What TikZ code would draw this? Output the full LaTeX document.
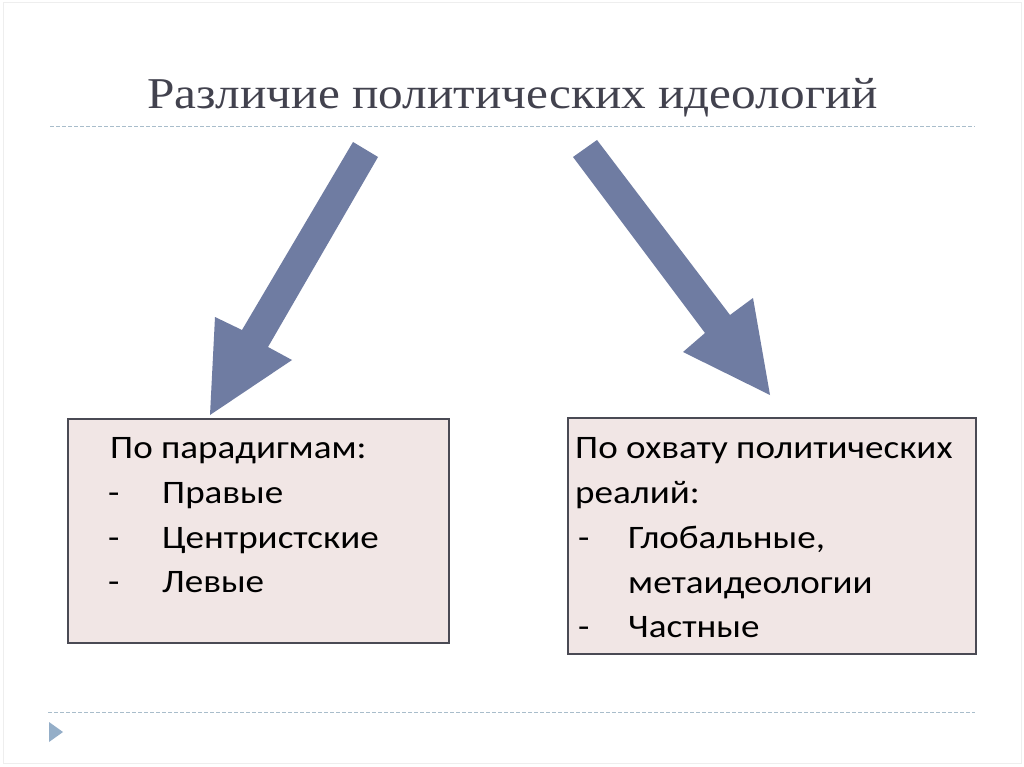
\documentclass[tikz,border=0pt]{standalone}
\usepackage{fontspec}
\usepackage{graphicx}
\setmainfont{Carlito}
\newfontfamily\titlefont{Liberation Serif}
\definecolor{arrowc}{HTML}{6F7CA2}
\definecolor{boxfill}{HTML}{F1E6E5}
\definecolor{boxline}{HTML}{4A4A54}
\definecolor{titlec}{HTML}{42424E}
\definecolor{dashc}{HTML}{A9BDCB}
\definecolor{tric}{HTML}{94AEC8}
\definecolor{framec}{HTML}{EEEEEE}
\newcommand{\wide}[1]{\scalebox{1.13}[1]{#1}}
\tikzset{
  bigarrow/.style={fill=arrowc},
  infobox/.style={draw=boxline, line width=1.6pt, fill=boxfill, anchor=north west, inner sep=0pt},
  line/.style={anchor=base west, inner sep=0pt, font=\fontsize{32.8}{38}\selectfont, text=black},
  sep/.style={draw=dashc, line width=1pt, dash pattern=on 4pt off 2pt},
}
\begin{document}
\begin{tikzpicture}[x=1pt,y=-1pt]
\useasboundingbox (0,0) rectangle (1024,767);
\fill[white] (0,0) rectangle (1024,767);
\draw[framec, line width=1pt] (3,3) rectangle (1021,763);
% title
\node[anchor=base west, inner sep=0pt, text=titlec, font=\titlefont\fontsize{44}{48}\selectfont] (title) at (147,109) {\scalebox{1.12}[1]{Различие политических идеологий}};
% separators
\coordinate (s1a) at (50,127); \coordinate (s1b) at (975,127);
\coordinate (s2a) at (48,712); \coordinate (s2b) at (975,712);
\draw[sep] (s1a) -- (s1b);
\draw[sep] (s2a) -- (s2b);
\fill[tric] (49,722) -- (63,732) -- (49,742) -- cycle;
% arrows
\fill[bigarrow] (353,142) -- (378,157) -- (268,347) -- (292,360) -- (210,415) -- (215,317) -- (242,330) -- cycle;
\fill[bigarrow] (597,140) -- (730,315) -- (753,298) -- (770,395) -- (683,352) -- (705,333) -- (573,157) -- cycle;
% boxes
\node[infobox, minimum width=381pt, minimum height=224pt] (lbox) at (67,418) {};
\node[infobox, minimum width=408pt, minimum height=236pt] (rbox) at (567,417) {};
% left text
\node[line] (l1) at (110,458) {\wide{По парадигмам:}};
\node[line] (l2d) at (108,503) {\wide{-}};
\node[line] (l2) at (162,503) {\wide{Правые}};
\node[line] (l3d) at (108,548) {\wide{-}};
\node[line] (l3) at (162,548) {\wide{Центристские}};
\node[line] (l4d) at (108,592) {\wide{-}};
\node[line] (l4) at (162,592) {\wide{Левые}};
% right text
\node[line] (r1) at (575,458) {\wide{По охвату политических}};
\node[line] (r2) at (575,503) {\wide{реалий:}};
\node[line] (r3d) at (578,548) {\wide{-}};
\node[line] (r3) at (628,548) {\wide{Глобальные,}};
\node[line] (r4) at (628,593) {\wide{метаидеологии}};
\node[line] (r5d) at (578,637) {\wide{-}};
\node[line] (r5) at (628,637) {\wide{Частные}};
\end{tikzpicture}
\end{document}
